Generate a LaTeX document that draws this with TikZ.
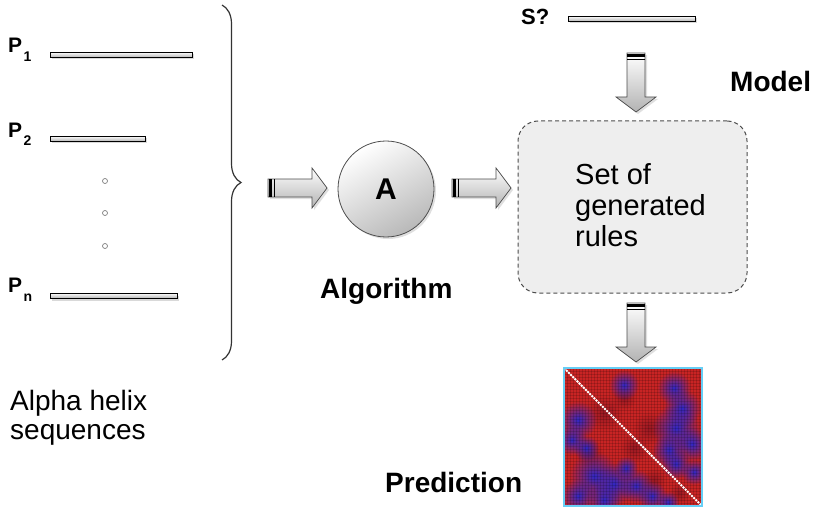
\documentclass[tikz,border=0pt]{standalone}
\usepackage{fontspec}
\setmainfont{Liberation Sans}
\usetikzlibrary{shadows,decorations.pathreplacing,positioning,fadings}

\definecolor{hmred}{RGB}{200,36,36}
\definecolor{hmdark}{RGB}{140,22,35}
\definecolor{hmblue}{RGB}{40,40,205}
\definecolor{boxgray}{RGB}{238,238,238}

\tikzfading[name=blobfade, inner color=transparent!0, outer color=transparent!100]

% subscripted sequence name
\newcommand{\seqname}[2]{#1\kern1.5pt\raisebox{-9pt}{\fontsize{14}{14}\selectfont #2}}

\tikzset{
  seqbar/.style={draw=black, line width=0.9pt, top color=white, bottom color=gray!55,
    drop shadow={opacity=0.3, shadow xshift=1.5pt, shadow yshift=-2.5pt}},
  pname/.style={font=\fontsize{21}{21}\selectfont\bfseries, inner sep=0pt, anchor=base west},
  lbl/.style={font=\fontsize{28}{30}\selectfont\bfseries, inner sep=0pt, anchor=base west},
  txt/.style={font=\fontsize{28}{29}\selectfont, align=left, inner sep=0pt, anchor=north west},
  gapdot/.style={circle, draw=gray, fill=white, line width=0.7pt, inner sep=0pt, minimum size=5pt},
  algo/.style={circle, draw=black!70, line width=0.8pt, minimum size=96pt,
    shading=axis, top color=white, bottom color=gray!55, shading angle=30,
    drop shadow={opacity=0.25, shadow xshift=2pt, shadow yshift=-2pt},
    font=\fontsize{30}{30}\selectfont\bfseries},
  rulebox/.style={draw=black!70, line width=1pt, dash pattern=on 4pt off 3pt,
    rounded corners=20pt, fill=boxgray, minimum width=229pt, minimum height=172pt},
  hmblob/.style={fill=hmblue, path fading=blobfade, fill opacity=0.95},
  hmshade/.style={fill=hmdark, path fading=blobfade, fill opacity=0.8},
  % fat arrow pointing along +x, tail at the origin
  blockarrow/.pic={
    \draw[draw=black!70, line width=0.7pt, top color=white, bottom color=gray!60,
      drop shadow={opacity=0.25, shadow xshift=2pt, shadow yshift=-2pt}]
      (0,-9) -- (44,-9) -- (44,-20) -- (59,0) -- (44,20) -- (44,9) -- (0,9) -- cycle;
    \fill[black] (1,-9) rectangle (4,9);
    \draw[black, line width=0.6pt] (6,-9) -- (6,9);
  },
}

\begin{document}
\begin{tikzpicture}[x=1pt, y=-1pt]
\useasboundingbox (0,0) rectangle (815,511);

% input sequences
\node[pname] (p1) at (8,53) {\seqname{P}{1}};
\node[pname] (p2) at (8,137) {\seqname{P}{2}};
\node[pname] (pn) at (8,292) {\seqname{P}{n}};
\draw[seqbar] (50,52) rectangle (192,57);
\draw[seqbar] (50,136) rectangle (145,141);
\draw[seqbar] (50,293) rectangle (177,298);

\node[gapdot] (d1) at (105,181) {};
\node[gapdot] (d2) at (105,213) {};
\node[gapdot] (d3) at (105,246) {};

\draw[black!80, line width=1.2pt, decorate, decoration={brace, amplitude=19pt}] (222,5) -- (222,360);

\node[txt] (alpha) at (10,390) {Alpha helix\\sequences};

% learning step
\pic at (268,188) {blockarrow};
\node[algo] (algo) at (386,189) {A};
\node[lbl] (alglbl) at (320,298) {Algorithm};
\pic at (452,188) {blockarrow};

% model
\node[rulebox] (model) at (632.5,207) {};
\node[txt, font=\fontsize{29}{31}\selectfont] (rules) at (575,163) {Set of\\generated\\rules};
\node[lbl] (modlbl) at (730,92) {Model};

% query sequence
\node[pname, font=\fontsize{22}{22}\selectfont\bfseries] (query) at (521,25) {S?};
\draw[seqbar] (568,16) rectangle (695,21);
\pic[rotate=-90] at (636,53) {blockarrow};

% prediction map
\pic[rotate=-90] at (636,303) {blockarrow};
\begin{scope}[shift={(564,368)}]
  \clip (0,0) rectangle (138,138);
  \fill[hmred] (0,0) rectangle (138,138);
  \foreach \u/\v/\r in {40/45/18, 85/60/16, 25/85/14, 90/112/12, 60/30/12, 70/80/14, 115/125/10}
    \fill[hmshade] (\u,\v) circle (\r);
  \foreach \u/\v/\r in {60/17/15, 110/20/17, 118/40/19, 112/60/24, 128/76/17, 105/82/17,
      112/96/15, 130/104/13, 14/52/19, 8/72/15, 22/80/13, 30/108/25, 50/116/21,
      72/118/17, 88/128/15, 14/128/17, 40/132/17, 62/100/12, 104/134/11}
    \fill[hmblob] (\u,\v) circle (\r);
  \foreach \k in {0,3,...,138} {
    \draw[black, opacity=0.15, line width=0.4pt] (\k,0) -- (\k,138);
    \draw[black, opacity=0.15, line width=0.4pt] (0,\k) -- (138,\k);
  }
  \draw[white, line width=1.8pt, dash pattern=on 2pt off 1pt] (0,0) -- (138,138);
\end{scope}
\draw[cyan!60, line width=1.5pt] (564,368) rectangle (702,506);
\node[lbl] (predlbl) at (385,492) {Prediction};

\end{tikzpicture}
\end{document}
